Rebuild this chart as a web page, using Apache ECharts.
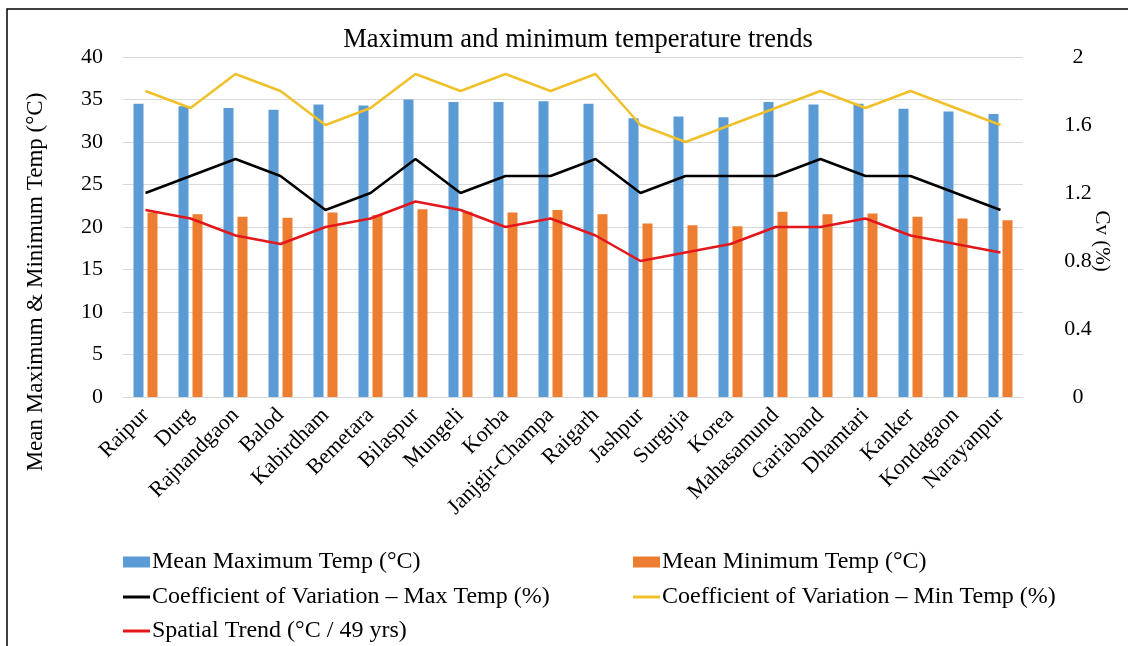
<!DOCTYPE html>
<html>
<head>
<meta charset="utf-8">
<title>Maximum and minimum temperature trends</title>
<script src="https://cdn.jsdelivr.net/npm/echarts@6/dist/echarts.min.js"></script>
<style>
  html, body { margin: 0; padding: 0; background: #fff; }
  #chart { width: 1128px; height: 646px; }
</style>
</head>
<body>
<div id="chart"></div>
<script>
// District-wise temperature statistics, Chhattisgarh
const districts = ['Raipur', 'Durg', 'Rajnandgaon', 'Balod', 'Kabirdham', 'Bemetara', 'Bilaspur',
  'Mungeli', 'Korba', 'Janjgir-Champa', 'Raigarh', 'Jashpur', 'Surguja', 'Korea',
  'Mahasamund', 'Gariaband', 'Dhamtari', 'Kanker', 'Kondagaon', 'Narayanpur'];

const meanMaxTemp = [34.5, 34.2, 34.0, 33.8, 34.4, 34.3, 35.0, 34.7, 34.7, 34.8,
  34.5, 32.8, 33.0, 32.9, 34.7, 34.4, 34.5, 33.9, 33.6, 33.3];

const meanMinTemp = [21.7, 21.5, 21.2, 21.1, 21.7, 21.4, 22.1, 21.8, 21.7, 22.0,
  21.5, 20.4, 20.2, 20.1, 21.8, 21.5, 21.6, 21.2, 21.0, 20.8];

const cvMaxTemp = [1.2, 1.3, 1.4, 1.3, 1.1, 1.2, 1.4, 1.2, 1.3, 1.3,
  1.4, 1.2, 1.3, 1.3, 1.3, 1.4, 1.3, 1.3, 1.2, 1.1];

const cvMinTemp = [1.8, 1.7, 1.9, 1.8, 1.6, 1.7, 1.9, 1.8, 1.9, 1.8,
  1.9, 1.6, 1.5, 1.6, 1.7, 1.8, 1.7, 1.8, 1.7, 1.6];

const spatialTrend = [1.1, 1.05, 0.95, 0.9, 1.0, 1.05, 1.15, 1.1, 1.0, 1.05,
  0.95, 0.8, 0.85, 0.9, 1.0, 1.0, 1.05, 0.95, 0.9, 0.85];

const seriesNames = ['Mean Maximum Temp (°C)', 'Mean Minimum Temp (°C)',
  'Coefficient of Variation – Max Temp (%)', 'Coefficient of Variation – Min Temp (%)',
  'Spatial Trend (°C / 49 yrs)'];

const FONT = '"Liberation Serif", "Times New Roman", serif';
const colors = { max: '#5B9BD5', min: '#ED7D31', cvMax: '#000000', cvMin: '#F0C02A', trend: '#E3171B' };

const chart = echarts.init(document.getElementById('chart'), null, { renderer: 'canvas' });

function legendAt(name, left, top, isBar) {
  return {
    data: [{ name: name, icon: 'rect' }],
    left: left, top: top,
    itemWidth: 27, itemHeight: isBar ? 11 : 3, itemGap: 0,
    selectedMode: false, padding: 0,
    textStyle: { fontFamily: FONT, fontSize: 24, color: '#000', padding: [0, 0, 0, -3] }
  };
}

const option = {
  animation: false,
  backgroundColor: '#fff',
  title: {
    text: 'Maximum and minimum temperature trends',
    left: 573, top: 22, textAlign: 'center',
    textStyle: { fontFamily: FONT, fontSize: 26.5, fontWeight: 'normal', color: '#000' }
  },
  legend: [
    legendAt(seriesNames[0], 123, 550, true),
    legendAt(seriesNames[1], 633, 550, true),
    legendAt(seriesNames[2], 123, 585, false),
    legendAt(seriesNames[3], 633, 585, false),
    legendAt(seriesNames[4], 123, 619, false)
  ],
  grid: { left: 123, right: 105, top: 57, bottom: 249, containLabel: false },
  xAxis: {
    type: 'category',
    data: districts,
    axisLine: { lineStyle: { color: '#D9D9D9', width: 1 } },
    axisTick: { show: false },
    axisLabel: {
      rotate: 45, interval: 0, margin: 15,
      fontFamily: FONT, fontSize: 22, color: '#000'
    }
  },
  yAxis: [
    {
      type: 'value', min: 0, max: 40, interval: 5,
      axisLine: { show: false }, axisTick: { show: false },
      axisLabel: { fontFamily: FONT, fontSize: 22, color: '#000', margin: 20 },
      splitLine: { lineStyle: { color: '#D9D9D9', width: 1 } }
    },
    {
      type: 'value', min: 0, max: 2, interval: 0.4,
      axisLine: { show: false }, axisTick: { show: false },
      axisLabel: { fontFamily: FONT, fontSize: 22, color: '#000', margin: 55, align: 'center' },
      splitLine: { show: false }
    }
  ],
  series: [
    {
      name: seriesNames[0], type: 'bar', yAxisIndex: 0, data: meanMaxTemp,
      barWidth: 10, barGap: '40%', itemStyle: { color: colors.max }
    },
    {
      name: seriesNames[1], type: 'bar', yAxisIndex: 0, data: meanMinTemp,
      barWidth: 10, barGap: '40%', itemStyle: { color: colors.min }
    },
    {
      name: seriesNames[2], type: 'line', yAxisIndex: 1, data: cvMaxTemp,
      symbol: 'none', lineStyle: { color: colors.cvMax, width: 2.5 }, itemStyle: { color: colors.cvMax }
    },
    {
      name: seriesNames[3], type: 'line', yAxisIndex: 1, data: cvMinTemp,
      symbol: 'none', lineStyle: { color: colors.cvMin, width: 2.5 }, itemStyle: { color: colors.cvMin }
    },
    {
      name: seriesNames[4], type: 'line', yAxisIndex: 1, data: spatialTrend,
      symbol: 'none', lineStyle: { color: colors.trend, width: 2.5 }, itemStyle: { color: colors.trend }
    }
  ],
  graphic: [
    {
      type: 'rect', silent: true, z: -1,
      shape: { x: 7, y: 9, width: 1140, height: 660 },
      style: { fill: 'none', stroke: '#000', lineWidth: 1.5 }
    },
    {
      type: 'text', silent: true,
      x: 36, y: 282, rotation: Math.PI / 2,
      style: {
        text: 'Mean Maximum & Minimum Temp (°C)',
        fontFamily: FONT, fontSize: 23, fill: '#000',
        align: 'center', verticalAlign: 'middle'
      }
    },
    {
      type: 'text', silent: true,
      x: 1102, y: 241, rotation: -Math.PI / 2,
      style: {
        text: 'Cv (%)',
        fontFamily: FONT, fontSize: 21, fill: '#000',
        align: 'center', verticalAlign: 'middle'
      }
    }
  ]
};

chart.setOption(option);
</script>
</body>
</html>
